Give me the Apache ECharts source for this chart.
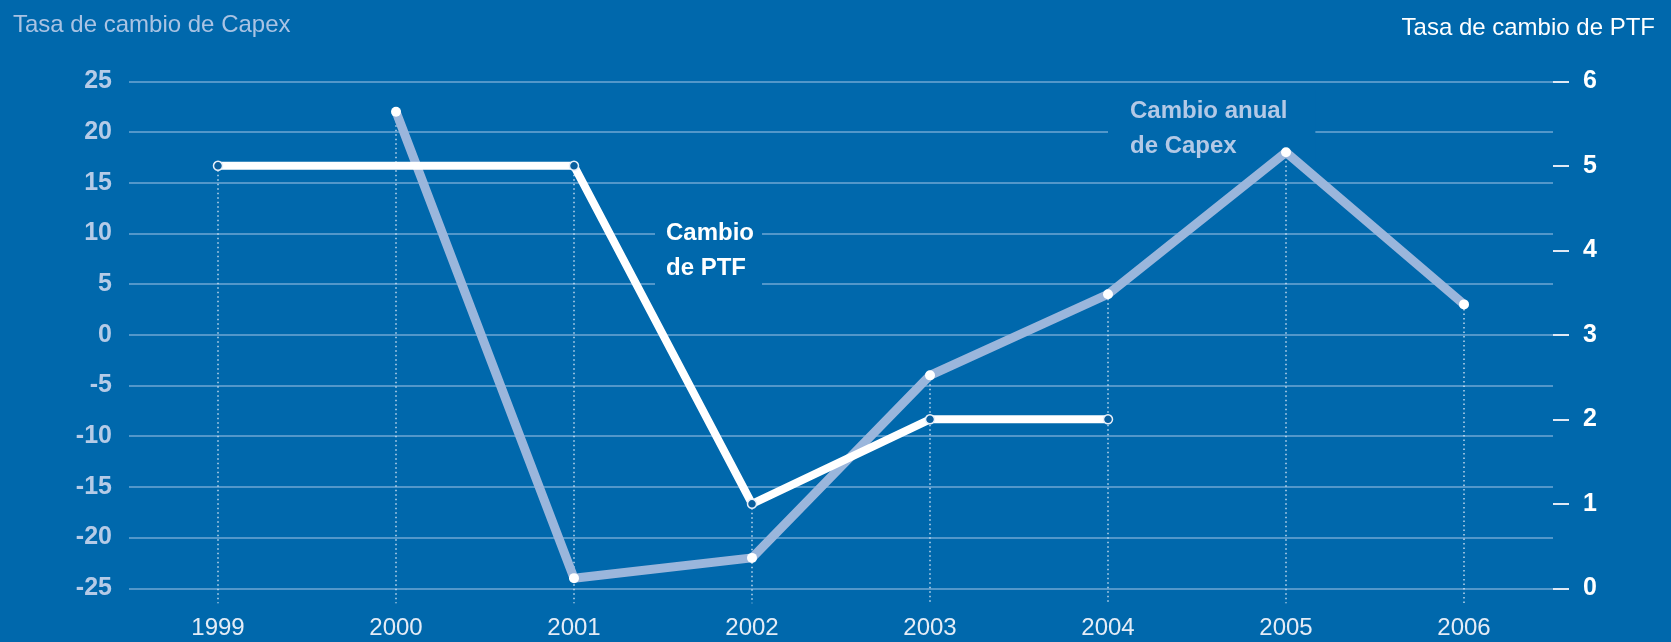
<!DOCTYPE html>
<html>
<head>
<meta charset="utf-8">
<script src="https://cdn.jsdelivr.net/npm/echarts@6/dist/echarts.min.js"></script>
<style>
html,body{margin:0;padding:0;background:#0068ac;}
#c{width:1671px;height:642px;}
</style>
</head>
<body>
<div id="c"></div>
<script>
// ---- data ----
const years = ['1999','2000','2001','2002','2003','2004','2005','2006'];
const capex = [null, 22, -24, -22, -4, 4, 18, 3];        // Tasa de cambio de Capex (left axis, %)
const ptf   = [5, 5, 5, 1, 2, 2, null, null];             // Tasa de cambio de PTF (right axis, %)
const leftTicks  = {min: -25, max: 25, interval: 5};
const rightTicks = {min: 0, max: 6, interval: 1};
const leftTitle  = 'Tasa de cambio de Capex';
const rightTitle = 'Tasa de cambio de PTF';
const capexLabel = 'Cambio anual\nde Capex';
const ptfLabel   = 'Cambio\nde PTF';

// ---- styles ----
const BG = '#0068ac';
const FONT = 'Liberation Sans, Arial, sans-serif';
const CAPEX_COLOR = '#9ab6dc';

// map a right-axis value onto the left-axis scale (both axes share the plot height)
function rightToLeft(v){
  return leftTicks.min + (v - rightTicks.min) * (leftTicks.max - leftTicks.min) / (rightTicks.max - rightTicks.min);
}
// top-most point of each year, for the dotted drop lines
const dropData = years.map((y, i) => {
  const vals = [];
  if (capex[i] != null) vals.push(capex[i]);
  if (ptf[i] != null) vals.push(rightToLeft(ptf[i]));
  return [i, Math.max.apply(null, vals)];
});

const ptfData = ptf.map((v, i) => {
  if (v == null) return '-';
  if (i === 1) return {value: v, symbol: 'none'};
  return v;
});

const chart = echarts.init(document.getElementById('c'), null, {renderer: 'canvas'});
chart.setOption({
  backgroundColor: BG,
  animation: false,
  grid: {left: 129, right: 118, top: 81.3, bottom: 53.7},
  xAxis: {
    type: 'category',
    data: years,
    boundaryGap: true,
    axisLine: {show: false},
    axisTick: {show: false},
    splitLine: {show: false},
    axisLabel: {color: '#e4ecf6', fontFamily: FONT, fontSize: 24, margin: 28}
  },
  yAxis: [
    {
      type: 'value',
      min: leftTicks.min, max: leftTicks.max, interval: leftTicks.interval,
      axisLine: {show: false},
      axisTick: {show: false},
      splitLine: {show: true, lineStyle: {color: 'rgba(200,220,245,0.55)', width: 1.5}},
      axisLabel: {color: '#b5cbe7', fontFamily: FONT, fontWeight: 'bold', fontSize: 25, margin: 17}
    },
    {
      type: 'value',
      position: 'right',
      min: rightTicks.min, max: rightTicks.max, interval: rightTicks.interval,
      axisLine: {show: false},
      axisTick: {show: true, length: 16, lineStyle: {color: '#dfe8f4', width: 2}},
      splitLine: {show: false},
      axisLabel: {color: '#ffffff', fontFamily: FONT, fontWeight: 'bold', fontSize: 25, margin: 30}
    }
  ],
  graphic: [
    {type: 'text', left: 13, top: 13, z: 1,
     style: {text: leftTitle, fill: '#a9c3e3', font: '24px ' + FONT}},
    {type: 'text', right: 16, top: 16, z: 1,
     style: {text: rightTitle, fill: '#ffffff', font: '24px ' + FONT}},
    {type: 'text', left: 1108, top: 90, z: 1,
     style: {text: capexLabel, fill: '#b3c9e6', font: 'bold 24px ' + FONT, lineHeight: 35,
             backgroundColor: BG, padding: [4, 28, 2, 22]}},
    {type: 'text', left: 655, top: 210, z: 1,
     style: {text: ptfLabel, fill: '#ffffff', font: 'bold 24px ' + FONT, lineHeight: 35,
             backgroundColor: BG, padding: [6, 8, 6, 11]}}
  ],
  series: [
    {
      type: 'custom',
      z: 2,
      silent: true,
      clip: false,
      data: dropData,
      renderItem: function(params, api){
        const top = api.coord([api.value(0), api.value(1)]);
        const bot = api.coord([api.value(0), leftTicks.min]);
        return {
          type: 'line',
          shape: {x1: top[0], y1: top[1], x2: top[0], y2: bot[1] + 15},
          style: {stroke: 'rgba(225,235,248,0.85)', lineWidth: 1.5, lineDash: [1.5, 3]}
        };
      }
    },
    {
      name: 'Capex',
      type: 'line',
      yAxisIndex: 0,
      z: 3,
      data: capex.map(v => v == null ? '-' : v),
      lineStyle: {color: CAPEX_COLOR, width: 9},
      symbol: 'circle',
      symbolSize: 10,
      itemStyle: {color: '#ffffff', borderWidth: 0},
      showAllSymbol: true
    },
    {
      name: 'PTF',
      type: 'line',
      yAxisIndex: 1,
      z: 4,
      data: ptfData,
      lineStyle: {color: '#ffffff', width: 8},
      symbol: 'circle',
      symbolSize: 9,
      itemStyle: {color: '#0a5f9e', borderColor: '#e8f0fa', borderWidth: 1.5},
      showAllSymbol: true
    }
  ]
});
</script>
</body>
</html>
